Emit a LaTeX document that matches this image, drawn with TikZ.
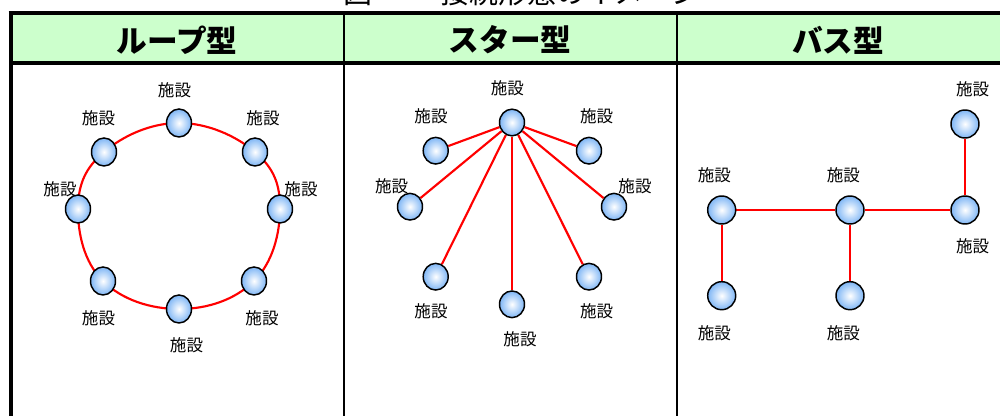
\documentclass[tikz,border=0pt]{standalone}
\usepackage{fontspec}
\newfontfamily\jp{Noto Sans CJK JP}
\usetikzlibrary{shapes.geometric}
\definecolor{hdrgreen}{HTML}{CCFFCC}
\definecolor{nodeblue}{HTML}{7FB6F5}
\definecolor{linkred}{HTML}{FF0000}
\pgfdeclarelayer{bg}
\pgfsetlayers{bg,main}
\tikzset{
  fac/.style={ellipse, draw=black, line width=1.1pt, inner sep=0pt,
    inner color=white, outer color=nodeblue},
  loopfac/.style={fac, minimum width=18.75pt, minimum height=21pt},
  starfac/.style={fac, minimum width=18.75pt, minimum height=20pt},
  busfac/.style={fac, minimum width=21pt, minimum height=21pt},
  lab/.style={inner sep=0pt, font=\jp\fontsize{12.4pt}{13pt}\selectfont},
  hdr/.style={inner sep=0pt, font=\jp\bfseries\fontsize{23pt}{24pt}\selectfont},
  ttl/.style={inner sep=0pt, anchor=base west, font=\jp\fontsize{21.75pt}{22pt}\selectfont},
  link/.style={draw=linkred, line width=1.6pt},
  frame/.style={draw=black, line width=3pt},
  divider/.style={draw=black, line width=1.5pt},
}
\begin{document}
\begin{tikzpicture}[x=0.75pt, y=-0.75pt]
\useasboundingbox (0,0) rectangle (1000,416);
% title (cut off at top)
\node[ttl] (ttlA) at (343,3.5) {図};
\node[ttl] (ttlB) at (440,3.5) {接続形態のイメージ};
% table
\fill[hdrgreen] (10,13) rectangle (1010,63);
\draw[divider] (344,13) -- (344,430);
\draw[divider] (677,13) -- (677,430);
\draw[frame] (8.5,13) -- (1010,13);
\draw[frame] (10.5,11.5) -- (10.5,430);
\draw[frame] (10,63) -- (1010,63);
% headers
\node[hdr] (h1) at (177,40) {ループ型};
\node[hdr] (h2) at (510,40) {スター型};
\node[hdr] (h3) at (838,40) {バス型};
% ---- loop ----
\node[loopfac] (L1) at (179,123) {};
\node[loopfac] (L2) at (255,152) {};
\node[loopfac] (L3) at (280,209) {};
\node[loopfac] (L4) at (254,281) {};
\node[loopfac] (L5) at (179,309) {};
\node[loopfac] (L6) at (103,281) {};
\node[loopfac] (L7) at (78,209) {};
\node[loopfac] (L8) at (104,152) {};
\begin{pgfonlayer}{bg}
\draw[link] plot[smooth cycle, tension=0.68] coordinates {(L1) (L2) (L3) (L4) (L5) (L6) (L7) (L8)};
\end{pgfonlayer}
\node[lab] (lL1) at (174.5,90) {施設};
\node[lab] (lL2) at (263,118) {施設};
\node[lab] (lL3) at (301,189) {施設};
\node[lab] (lL4) at (262,318) {施設};
\node[lab] (lL5) at (186.5,345) {施設};
\node[lab] (lL6) at (98.5,318) {施設};
\node[lab] (lL7) at (60,189) {施設};
\node[lab] (lL8) at (98.5,118) {施設};
% ---- star ----
\node[starfac] (S0) at (512,122.5) {};
\node[starfac] (S1) at (589,150.7) {};
\node[starfac] (S2) at (614,206.7) {};
\node[starfac] (S3) at (589,276.7) {};
\node[starfac] (S4) at (512,304.3) {};
\node[starfac] (S5) at (435.7,276.7) {};
\node[starfac] (S6) at (410,206.7) {};
\node[starfac] (S7) at (435.7,150.7) {};
\begin{pgfonlayer}{bg}
\foreach \i in {1,...,7} \draw[link] (S0) -- (S\i);
\end{pgfonlayer}
\node[lab] (lS0) at (507.3,88.3) {施設};
\node[lab] (lS1) at (596.7,116.7) {施設};
\node[lab] (lS2) at (635,186.7) {施設};
\node[lab] (lS3) at (596.7,311.7) {施設};
\node[lab] (lS4) at (520,339.3) {施設};
\node[lab] (lS5) at (431,311.7) {施設};
\node[lab] (lS6) at (391.7,186.7) {施設};
\node[lab] (lS7) at (431,116.7) {施設};
% ---- bus ----
\node[busfac] (BA) at (721.7,210) {};
\node[busfac] (BB) at (850,210) {};
\node[busfac] (BC) at (965,210) {};
\node[busfac] (BD) at (965,124) {};
\node[busfac] (BE) at (721.7,295.7) {};
\node[busfac] (BF) at (850,295.7) {};
\begin{pgfonlayer}{bg}
\draw[link] (BA) -- (BB);
\draw[link] (BB) -- (BC);
\draw[link] (BC) -- (BD);
\draw[link] (BA) -- (BE);
\draw[link] (BB) -- (BF);
\end{pgfonlayer}
\node[lab] (lBA) at (714.3,175) {施設};
\node[lab] (lBB) at (843.3,175) {施設};
\node[lab] (lBD) at (972.7,89.3) {施設};
\node[lab] (lBC) at (972.7,246.7) {施設};
\node[lab] (lBE) at (714.3,333.3) {施設};
\node[lab] (lBF) at (843.3,333.3) {施設};
\end{tikzpicture}
\end{document}
